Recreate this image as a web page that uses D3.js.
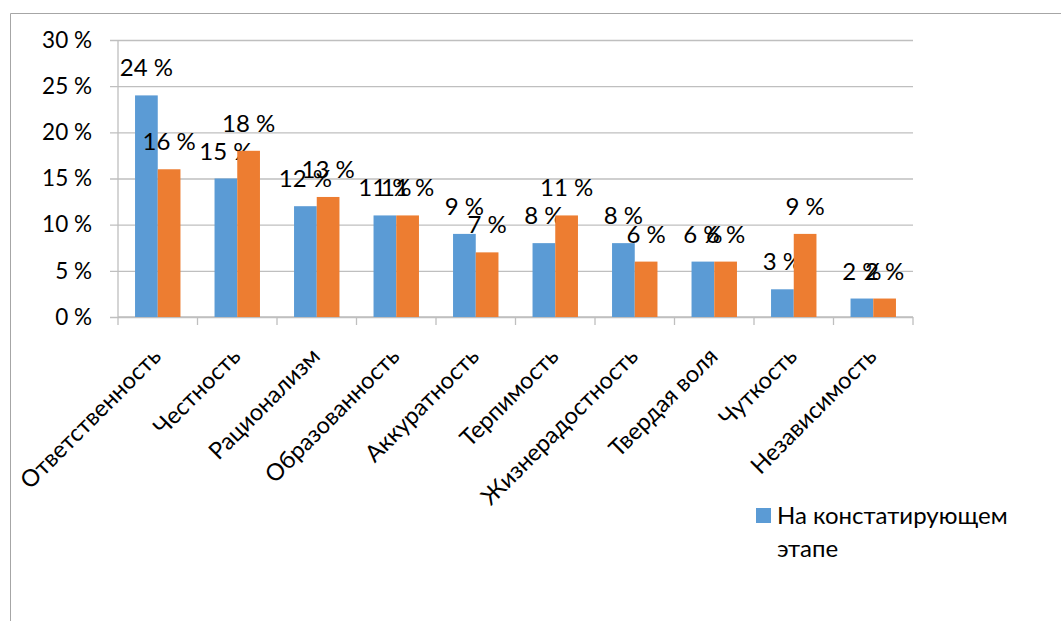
<!DOCTYPE html>
<html>
<head>
<meta charset="utf-8">
<script src="https://cdn.jsdelivr.net/npm/d3@7"></script>
<style>
  html, body { margin: 0; padding: 0; background: #fff; }
  svg { display: block; font-family: Lato, "Liberation Sans", sans-serif; }
</style>
</head>
<body>
<svg id="chart" width="1061" height="621"></svg>
<script>
// Personal qualities, share of respondents (%)
const categories = ["Ответственность", "Честность", "Рационализм", "Образованность", "Аккуратность",
                    "Терпимость", "Жизнерадостность", "Твердая воля", "Чуткость", "Независимость"];
const seriesNames = ["На констатирующем этапе", "На контрольном этапе"];
const stage1 = [24, 15, 12, 11, 9, 8, 8, 6, 3, 2];
const stage2 = [16, 18, 13, 11, 7, 11, 6, 6, 9, 2];
const yTicks = [0, 5, 10, 15, 20, 25, 30];
const colors = ["#5b9bd5", "#ed7d31"];

const svg = d3.select("#chart");

// outer chart frame
svg.append("path")
  .attr("d", "M10.5,621 V13.5 H1061")
  .attr("fill", "none").attr("stroke", "#a6a6a6").attr("stroke-width", 1);

const plot = { left: 118, right: 913, top: 40, bottom: 317 };

const x = d3.scaleBand().domain(categories).range([plot.left, plot.right]).paddingInner(0).paddingOuter(0);
const inner = d3.scaleBand().domain([0, 1]).range([0, x.bandwidth()]).paddingInner(0).paddingOuter(0.75);
const y = d3.scaleLinear().domain([0, 30]).range([plot.bottom, plot.top]);

// horizontal gridlines with left tick stubs
const gy = svg.append("g").attr("transform", `translate(${plot.right},0)`);
gy.call(d3.axisLeft(y).tickValues(yTicks).tickSize(plot.right - plot.left + 8).tickFormat(d => d + " %").tickPadding(18));
gy.select(".domain").remove();
gy.selectAll(".tick line").attr("stroke", "#bfbfbf").attr("stroke-width", 1.3);
gy.selectAll(".tick text").attr("font-size", 22.5).attr("fill", "#000").attr("font-family", "Lato, sans-serif");

// vertical axis line
svg.append("line")
  .attr("x1", plot.left).attr("x2", plot.left)
  .attr("y1", plot.top).attr("y2", plot.bottom)
  .attr("stroke", "#bfbfbf").attr("stroke-width", 1.3);

// category axis with ticks at band boundaries
const gx = svg.append("g").attr("transform", `translate(0,${plot.bottom})`);
gx.append("line").attr("x1", plot.left).attr("x2", plot.right)
  .attr("stroke", "#bfbfbf").attr("stroke-width", 1.3);
const boundaries = categories.map(c => x(c)).concat([plot.right]);
gx.selectAll("line.tk").data(boundaries).join("line").attr("class", "tk")
  .attr("x1", d => d).attr("x2", d => d).attr("y1", 0).attr("y2", 8)
  .attr("stroke", "#bfbfbf").attr("stroke-width", 1.3);

gx.selectAll("text.cat").data(categories).join("text").attr("class", "cat")
  .attr("transform", d => `translate(${x(d) + x.bandwidth() / 2 - 1},35) rotate(-45)`)
  .attr("text-anchor", "end").attr("dy", "0.35em")
  .attr("font-size", 23.5).attr("fill", "#000")
  .text(d => d);

// bars and value labels
const series = [stage1, stage2];
series.forEach((vals, si) => {
  const g = svg.append("g");
  g.selectAll("rect").data(vals).join("rect")
    .attr("x", (d, i) => x(categories[i]) + inner(si))
    .attr("width", inner.bandwidth())
    .attr("y", d => y(d))
    .attr("height", d => y(0) - y(d))
    .attr("fill", colors[si]);
  g.selectAll("text").data(vals).join("text")
    .attr("x", (d, i) => x(categories[i]) + inner(si) + inner.bandwidth() / 2)
    .attr("y", d => y(d) - 19)
    .attr("text-anchor", "middle")
    .attr("font-size", 24).attr("fill", "#000")
    .text(d => d + " %");
});

// legend (first entry)
const lg = svg.append("g").attr("transform", "translate(756,508)");
lg.append("rect").attr("width", 15).attr("height", 15).attr("fill", colors[0]);
const lt = lg.append("text").attr("x", 21).attr("y", 16).attr("font-size", 24).attr("fill", "#000");
lt.append("tspan").attr("x", 21).text(seriesNames[0].replace(" этапе", ""));
lt.append("tspan").attr("x", 21).attr("dy", 33).text("этапе");
</script>
</body>
</html>
